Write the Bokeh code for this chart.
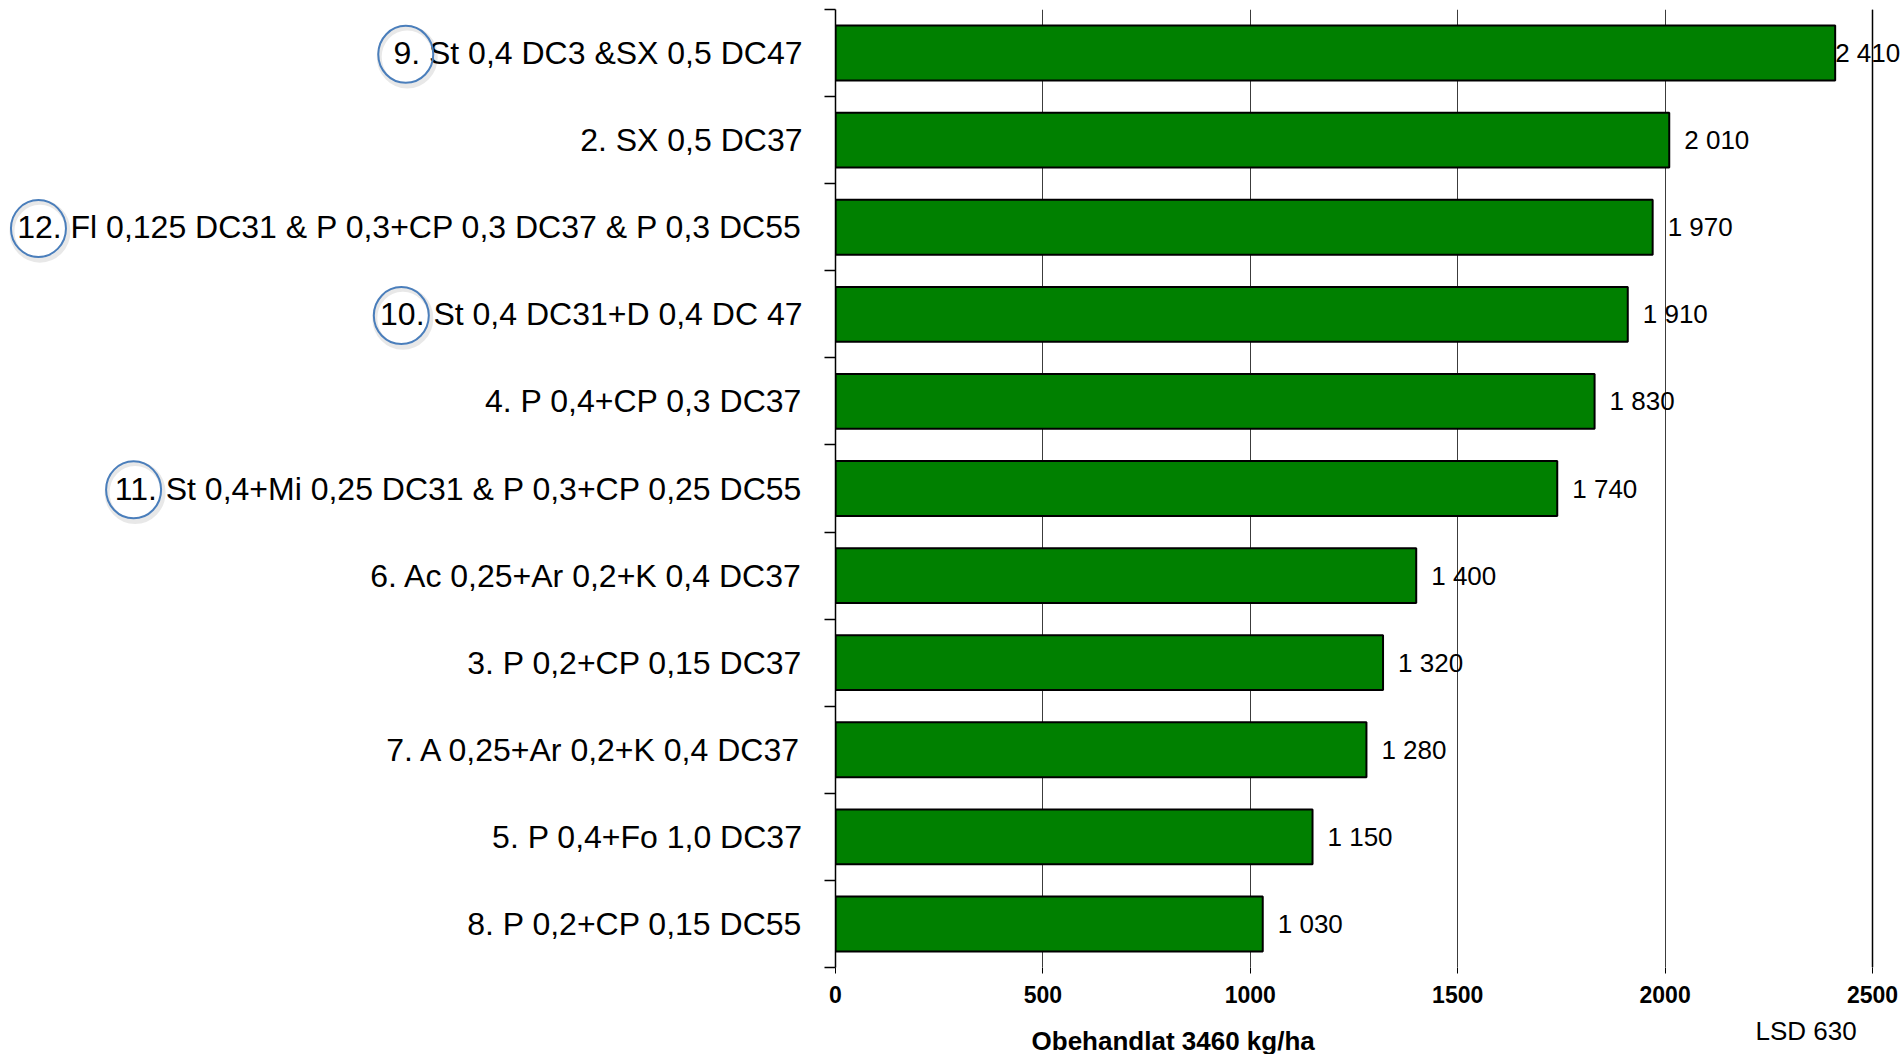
from bokeh.plotting import figure
from bokeh.layouts import row, column
from bokeh.models import (ColumnDataSource, FactorRange, Range1d, FixedTicker, LabelSet, Span,
                          LinearAxis)
from bokeh.transform import dodge
from bokeh.embed import file_html
from bokeh.resources import INLINE
from bokeh.core.properties import value

# ---------------- data ----------------
treatments = [
    "9. St 0,4 DC3 &SX 0,5 DC47",
    "2. SX 0,5 DC37",
    "12. Fl 0,125 DC31 & P 0,3+CP 0,3 DC37 & P 0,3 DC55",
    "10. St 0,4 DC31+D 0,4 DC 47",
    "4. P 0,4+CP 0,3 DC37",
    "11. St 0,4+Mi 0,25 DC31 & P 0,3+CP 0,25 DC55",
    "6. Ac 0,25+Ar 0,2+K 0,4 DC37",
    "3. P 0,2+CP 0,15 DC37",
    "7. A 0,25+Ar 0,2+K 0,4 DC37",
    "5. P 0,4+Fo 1,0 DC37",
    "8. P 0,2+CP 0,15 DC55",
]
yield_gain = [2410, 2010, 1970, 1910, 1830, 1740, 1400, 1320, 1280, 1150, 1030]
circled = ["9.", "12.", "10.", "11."]
x_ticks = [0, 500, 1000, 1500, 2000, 2500]
x_title = "Obehandlat 3460 kg/ha"
lsd_note = "LSD 630"

# ---------------- styling / layout ----------------
FONT = "Liberation Sans"
TOTAL_W = 1901
AXIS_X = 835          # page x of the value axis origin
GUTTER = 14           # border left of the bar frame (holds the y ticks)
W_LEFT = AXIS_X - GUTTER
AXIS_W = 1037         # pixel length of 0..2500
H_TOP = 1015
H_BOT = 1054 - H_TOP
TOP = 9
BOTTOM = 48
LABEL_PX = 32
LABEL_RIGHT = 802     # right edge of the category texts
VALUE_PX = 26

# Arial / Liberation Sans advance widths (per 1000 em)
ADV = {" ": 278, ".": 278, ",": 278, "&": 667, "+": 584,
       "A": 667, "C": 722, "D": 722, "F": 611, "K": 667, "M": 833, "P": 667,
       "S": 667, "X": 667, "c": 500, "i": 222, "l": 222, "o": 556, "r": 333, "t": 278}


def text_w(s, px):
    return sum(ADV.get(ch, 556) for ch in s) / 1000.0 * px


yr = FactorRange(factors=list(reversed(treatments)))
W_RIGHT = TOTAL_W - W_LEFT
FRAME_W = W_RIGHT - GUTTER
px_per_unit = AXIS_W / (x_ticks[-1] - x_ticks[0])
xr = Range1d(x_ticks[0], x_ticks[0] + FRAME_W / px_per_unit)

# ---------------- left panel: category labels ----------------
left = figure(width=W_LEFT, height=H_TOP, x_range=Range1d(0, W_LEFT), y_range=yr,
              output_backend="svg", toolbar_location=None,
              x_axis_location=None, y_axis_location=None,
              min_border_left=0, min_border_right=0,
              min_border_top=TOP, min_border_bottom=BOTTOM)
left.outline_line_color = None
left.grid.visible = False

src_l = ColumnDataSource(dict(y=treatments, x=[LABEL_RIGHT] * len(treatments), text=treatments))
left.text(x="x", y="y", text="text", source=src_l, text_align="right",
          text_baseline="middle", text_font=value(FONT),
          text_font_size=f"{LABEL_PX}px", text_color="black")

# circles around selected treatment numbers
cx, cy = [], []
for lab in treatments:
    pre = lab.split(" ")[0]
    if pre in circled:
        start = LABEL_RIGHT - text_w(lab, LABEL_PX)
        cx.append(start + text_w(pre, LABEL_PX) / 2.0 - 1)
        cy.append(lab)
src_c = ColumnDataSource(dict(x=cx, y=cy, xs=[v + 1.5 for v in cx]))
left.ellipse(x="xs", y=dodge("y", -0.045, range=yr), width=56, height=58,
             width_units="screen", height_units="screen", source=src_c,
             fill_color=None, line_color="#000000", line_alpha=0.09, line_width=5)
left.ellipse(x="x", y=dodge("y", -0.015, range=yr), width=55, height=57,
             width_units="screen", height_units="screen", source=src_c,
             fill_color=None, line_color="#4A7EBB", line_width=2)

# ---------------- right panel: bars ----------------
p = figure(width=W_RIGHT, height=H_TOP, x_range=xr, y_range=yr,
           output_backend="svg", toolbar_location=None, y_axis_location=None,
           min_border_left=GUTTER, min_border_right=0,
           min_border_top=TOP, min_border_bottom=BOTTOM)
p.outline_line_color = None

# y axis: tick marks between the categories, no labels
yax = LinearAxis(ticker=FixedTicker(ticks=list(range(len(treatments) + 1))),
                 major_tick_in=0, major_tick_out=11, major_tick_line_color="black",
                 major_tick_line_width=1.5, minor_tick_line_color=None,
                 axis_line_color="black", axis_line_width=1.5,
                 major_label_text_font_size="0px", major_label_standoff=0,
                 major_label_overrides={i: "" for i in range(len(treatments) + 1)})
p.add_layout(yax, "left")

src = ColumnDataSource(dict(cat=treatments, val=yield_gain,
                            txt=[f"{v:,}".replace(",", " ") for v in yield_gain]))
# value-label offset: 15 px, less where the label would run off the page
offs = []
for v, t in zip(yield_gain, src.data["txt"]):
    room = FRAME_W - v * px_per_unit - text_w(t, VALUE_PX) - 2
    offs.append(max(0, min(15, room)))
src.data["off"] = offs

ticker = FixedTicker(ticks=x_ticks)
p.xaxis.ticker = ticker
p.xgrid.ticker = ticker
p.xgrid.grid_line_color = "#3c3c3c"
p.xgrid.grid_line_width = 1
p.ygrid.visible = False

p.hbar(y="cat", left=0, right="val", height=0.63, source=src,
       fill_color="#008000", line_color="black", line_width=2)

# frame lines (right, top, bottom) limited to the 0..2500 span
p.add_layout(Span(location=x_ticks[-1], dimension="height", line_color="black", line_width=1.5))
p.segment(x0=x_ticks[0], x1=x_ticks[-1], y0=dodge(treatments[0], 0.5, range=yr),
          y1=dodge(treatments[0], 0.5, range=yr), line_color="#222222", line_width=2)
p.segment(x0=x_ticks[0], x1=x_ticks[-1], y0=dodge(treatments[-1], -0.5, range=yr),
          y1=dodge(treatments[-1], -0.5, range=yr), line_color="black", line_width=4)

ax = p.xaxis[0]
ax.axis_line_color = None
ax.major_tick_in = 0
ax.major_tick_out = 6
ax.major_tick_line_color = "black"
ax.minor_tick_line_color = None
ax.major_label_text_font = FONT
ax.major_label_text_font_style = "bold"
ax.major_label_text_font_size = "23px"
ax.major_label_text_color = "black"
ax.major_label_standoff = 12

p.add_layout(LabelSet(x="val", y="cat", text="txt", source=src, x_offset="off",
                      text_baseline="middle", text_font=value(FONT),
                      text_font_size=f"{VALUE_PX}px", text_color="black"))

# ---------------- bottom strip: axis title and LSD note ----------------
bot = figure(width=TOTAL_W, height=H_BOT, x_range=xr, y_range=Range1d(0, H_BOT),
             output_backend="svg", toolbar_location=None,
             x_axis_location=None, y_axis_location=None,
             min_border_left=AXIS_X, min_border_right=0,
             min_border_top=0, min_border_bottom=0)
bot.outline_line_color = None
bot.grid.visible = False
bot.text(x=[814], y=[14], text=[x_title], text_align="center", text_baseline="middle",
         text_font=value(FONT), text_font_style="bold", text_font_size="26px",
         text_color="black")
bot.text(x=[2340], y=[23.5], text=[lsd_note], text_align="center", text_baseline="middle",
         text_font=value(FONT), text_font_size="26px", text_color="black")

layout = column(row(left, p), bot)
open("out.html", "w").write(file_html(layout, INLINE))
